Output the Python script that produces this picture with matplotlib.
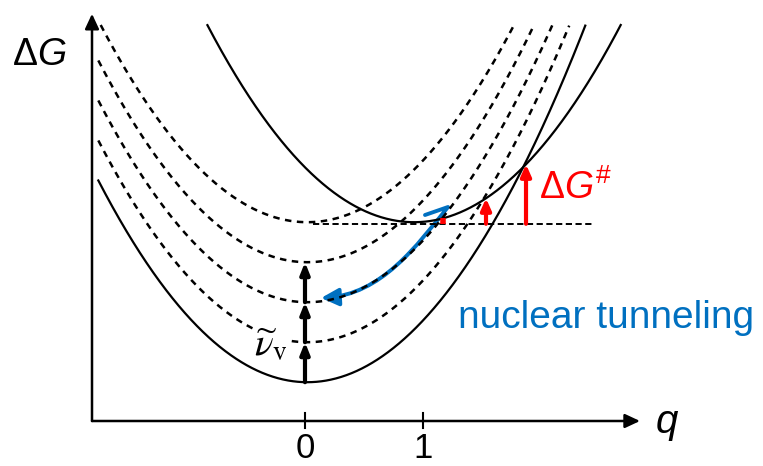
import numpy as np
import matplotlib.pyplot as plt
from matplotlib.patches import FancyArrowPatch
from matplotlib.path import Path

plt.rcParams['font.family'] = ['Liberation Sans', 'DejaVu Sans']
plt.rcParams['mathtext.fontset'] = 'custom'
plt.rcParams['mathtext.rm'] = 'Liberation Sans'
plt.rcParams['mathtext.it'] = 'Liberation Sans:italic'

# harmonic free-energy curves, G in units of one vibrational quantum
k = 1.607
react_q0, react_g0 = 0.02, 0.97
prod_q0, prod_g0 = 0.924, 4.97
vib_levels = [1, 2, 3, 4]          # dashed copies of the reactant curve
cross_level = 4.93                 # dashed horizontal line
cross_line_q = [0.068, 2.44]
red_arrow_q = [1.17, 1.534, 1.873]
vib_arrow_q = 0.0
vib_arrow_n = [0, 1, 2]
tick_q = [0, 1]
tick_labels = ['0', '1']
q_left, g_top = -1.754, 9.9

# tunneling path: small hook then curved return (cubic bezier)
tunnel_q = [1.017, 1.212, 0.95, 0.65, 0.136]
tunnel_g = [5.15, 5.35, 4.4, 3.15, 3.075]

blue = '#0070C0'
red = '#FF0000'

fig = plt.figure(figsize=(7.63, 4.66), dpi=100)
ax = fig.add_axes([0, 0, 1, 1])
ax.set_xlim(-2.5847, 3.8814)
ax.set_ylim(-1.125, 10.525)
ax.axis('off')

q = np.linspace(-2.5, 3.5, 1500)


def curve(q0, g0):
    g = g0 + k * (q - q0) ** 2
    g[(g > g_top) | (q < q_left)] = np.nan
    return g


ax.plot(q, curve(react_q0, react_g0), c='k', lw=1.6)
ax.plot(q, curve(prod_q0, prod_g0), c='k', lw=1.6)
for n in vib_levels:
    ax.plot(q, curve(react_q0, react_g0 + n), c='k', lw=1.8, dashes=(2.6, 2.2))
ax.plot(cross_line_q, [cross_level, cross_level], c='k', lw=1.4, dashes=(3.2, 1.8))

# axes with arrows
q_axis = -1.805
head = '-|>,head_length=0.6,head_width=0.28'
ax.annotate('', xy=(q_axis, 10.18), xytext=(q_axis, 0),
            arrowprops=dict(arrowstyle=head, lw=1.8, color='k',
                            shrinkA=0, shrinkB=0, mutation_scale=15))
ax.annotate('', xy=(2.839, 0), xytext=(q_axis, 0),
            arrowprops=dict(arrowstyle=head, lw=1.8, color='k',
                            shrinkA=0, shrinkB=0, mutation_scale=15))
for tq, tl in zip(tick_q, tick_labels):
    ax.plot([tq, tq], [-0.175, 0.2], c='k', lw=1.5)
    ax.text(tq, -0.92, tl, ha='center', va='baseline', fontsize=25)

ax.text(-2.483, 8.9, r'$\Delta G$', fontsize=27, ha='left', va='baseline')
ax.text(2.966, -0.3, r'$q$', fontsize=29, ha='left', va='baseline')

# vibrational ladder
for n in vib_arrow_n:
    ax.annotate('', xy=(vib_arrow_q, react_g0 + n + 1), xytext=(vib_arrow_q, react_g0 + n),
                arrowprops=dict(arrowstyle='-|>,head_length=0.45,head_width=0.18',
                                lw=3, color='k', shrinkA=0, shrinkB=0, mutation_scale=15))
ax.text(-0.43, 1.62, r'$\widetilde{\nu}_{\mathrm{v}}$', fontsize=28, math_fontfamily='stix',
        ha='left', va='baseline', bbox=dict(fc='white', ec='none', pad=0))

# activation arrows (the first is only a stub)
for rq in red_arrow_q:
    top = prod_g0 + k * (rq - prod_q0) ** 2
    if top - cross_level < 0.3:
        ax.plot([rq, rq], [cross_level, top], c=red, lw=4, solid_capstyle='butt')
        continue
    ax.annotate('', xy=(rq, top), xytext=(rq, cross_level),
                arrowprops=dict(arrowstyle='-|>,head_length=0.45,head_width=0.2',
                                lw=3, color=red, shrinkA=0, shrinkB=0, mutation_scale=15))
ax.text(1.983, 5.55, r'$\Delta G^{\#}$', fontsize=27, color=red, ha='left', va='baseline')

# tunneling arrow
codes = [Path.MOVETO, Path.LINETO, Path.CURVE4, Path.CURVE4, Path.CURVE4]
tpath = Path(list(zip(tunnel_q, tunnel_g)), codes)
ax.add_patch(FancyArrowPatch(path=tpath, arrowstyle='-|>,head_length=0.7,head_width=0.35',
                             mutation_scale=15, lw=2.8, color=blue, joinstyle='round',
                             capstyle='round'))
ax.text(1.297, 2.325, 'nuclear tunneling', fontsize=28, color=blue, ha='left', va='baseline')

fig.savefig('out.png', dpi=100)
